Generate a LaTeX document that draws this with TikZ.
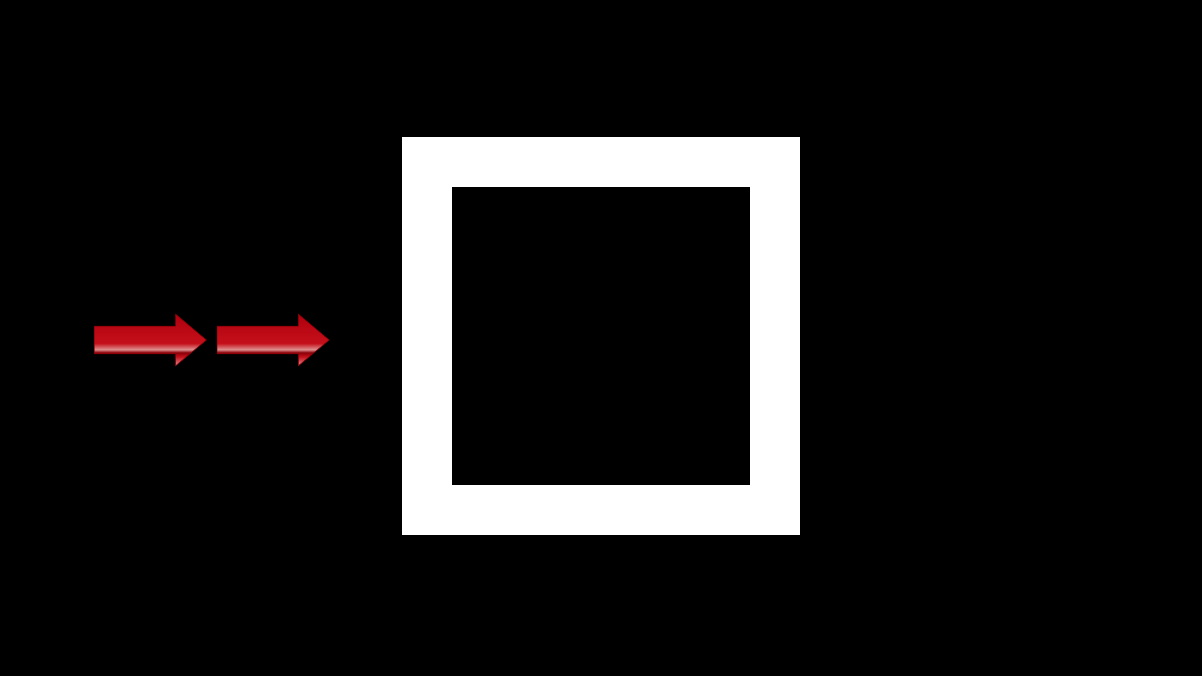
\documentclass[tikz,border=0pt]{standalone}
\usetikzlibrary{positioning,shapes.arrows}

\definecolor{topred}{HTML}{B0000E}
\definecolor{midred}{HTML}{C4101A}
\definecolor{pinkred}{HTML}{E09090}
\definecolor{darkred}{HTML}{8A0008}
\pgfdeclareverticalshading{arrowred}{100bp}{color(0bp)=(pinkred); color(25bp)=(pinkred); color(34bp)=(midred); color(38bp)=(darkred); color(41bp)=(pinkred); color(47bp)=(midred); color(75bp)=(topred); color(100bp)=(topred)}

\tikzset{
  redarrow/.style={single arrow, shading=arrowred, draw=darkred, line width=0.6pt,
    inner xsep=0pt, inner ysep=13.5pt, minimum height=112pt,
    single arrow head extend=12pt, single arrow tip angle=80},
  frame/.style={draw=white, line width=50pt, minimum size=348pt, inner sep=0pt}
}

\begin{document}
\begin{tikzpicture}[x=1pt, y=-1pt]
\fill[black] (0,0) rectangle (1202,676);
\useasboundingbox (0,0) rectangle (1202,676);
\node[frame] (box) at (601,336) {};
\node[redarrow, anchor=tail] (arrowA) at (94,340) {};
\node[redarrow, right=10pt of arrowA] (arrowB) {};
\end{tikzpicture}
\end{document}
